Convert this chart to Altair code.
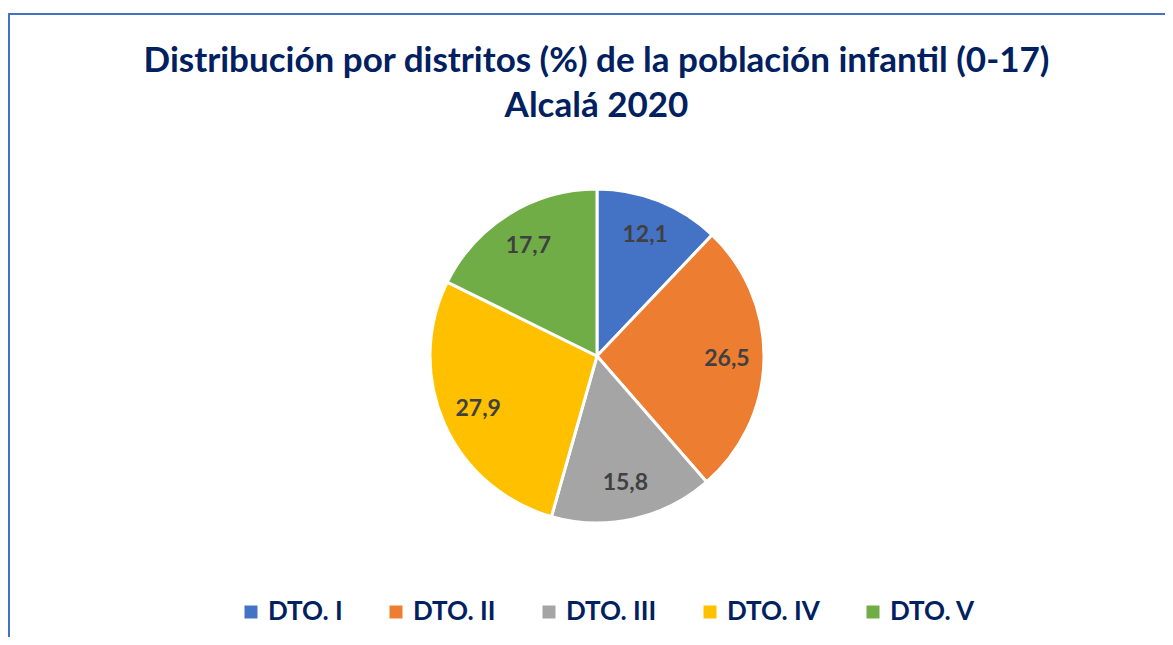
import altair as alt
import pandas as pd

districts = ["DTO. I", "DTO. II", "DTO. III", "DTO. IV", "DTO. V"]
values = [12.1, 26.5, 15.8, 27.9, 17.7]
colors = ["#4472C4", "#ED7D31", "#A5A5A5", "#FFC000", "#70AD47"]
title_lines = ["Distribución por distritos (%) de la población infantil (0-17)", "Alcalá 2020"]

df = pd.DataFrame({
    "district": districts,
    "value": values,
    "order": list(range(len(districts))),
    "label": [f"{v:.1f}".replace(".", ",") for v in values],
})

W, H = 1157, 629
CX, CY = 589, 348
R = 167

base = alt.Chart(df).encode(
    theta=alt.Theta("value:Q", stack=True),
    order=alt.Order("order:Q"),
)

pie = base.mark_arc(outerRadius=R, stroke="white", strokeWidth=3).encode(
    x=alt.value(CX),
    y=alt.value(CY),
    color=alt.Color(
        "district:N",
        scale=alt.Scale(domain=districts, range=colors),
        sort=districts,
        legend=alt.Legend(
            title=None,
            orient="none",
            direction="horizontal",
            legendX=230,
            legendY=591,
            symbolType="square",
            symbolSize=169,
            symbolStrokeWidth=0,
            labelFont="Lato",
            labelFontSize=26,
            labelFontWeight="bold",
            labelColor="#002060",
            labelOffset=4,
            columnPadding=40,
            labelLimit=300,
        ),
    ),
)

labels = base.mark_text(
    radius=130, font="Lato", fontSize=23, fontWeight="bold", color="#404040"
).encode(
    x=alt.value(CX),
    y=alt.value(CY),
    text="label:N",
)

frame_top = alt.Chart(df).mark_rule(color="#4472C4", strokeWidth=1.5).encode(
    x=alt.value(0), x2=alt.value(W), y=alt.value(6)
)
frame_left = alt.Chart(df).mark_rule(color="#4472C4", strokeWidth=1.5).encode(
    x=alt.value(1), y=alt.value(6), y2=alt.value(H)
)

chart = alt.layer(frame_top, frame_left, pie, labels).properties(
    width=W,
    height=H,
    padding=0,
    autosize=alt.AutoSizeParams(type="none"),
    title=alt.TitleParams(
        text=title_lines,
        font="Lato",
        fontSize=35,
        fontWeight="bold",
        color="#002060",
        lineHeight=45,
        anchor="middle",
        dx=10,
        offset=-116,
    ),
).configure_view(stroke=None)

chart.save("out.html", embed_options={"renderer": "svg", "actions": False})
